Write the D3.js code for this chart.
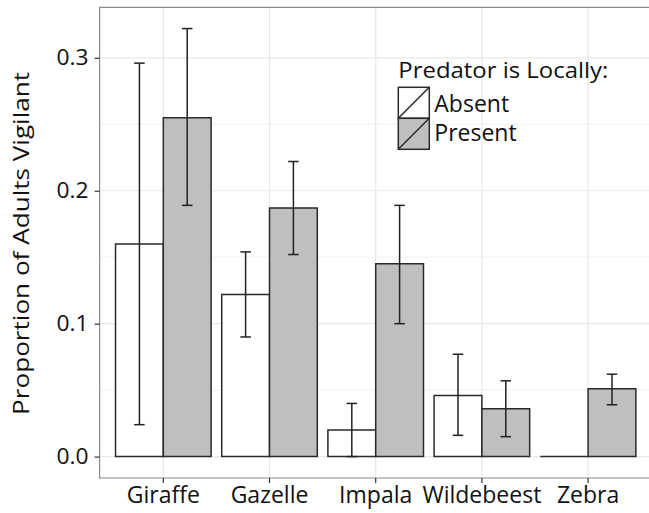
<!DOCTYPE html>
<html>
<head>
<meta charset="utf-8">
<script src="https://cdnjs.cloudflare.com/ajax/libs/d3/7.8.5/d3.min.js"></script>
<style>
  body { margin: 0; background: #fff; }
  svg { display: block; font-family: "Open Sans", "Noto Sans", sans-serif; }
</style>
</head>
<body>
<script>
// values
var species = ["Giraffe", "Gazelle", "Impala", "Wildebeest", "Zebra"];
var groups = ["Absent", "Present"];
var absentMean = [0.160, 0.122, 0.020, 0.046, 0.000];
var absentLow  = [0.024, 0.090, 0.000, 0.016, null];
var absentHigh = [0.296, 0.154, 0.040, 0.077, null];
var presentMean = [0.255, 0.187, 0.145, 0.036, 0.051];
var presentLow  = [0.189, 0.152, 0.100, 0.015, 0.039];
var presentHigh = [0.322, 0.222, 0.189, 0.057, 0.062];
var majorTicks = [0, 0.1, 0.2, 0.3];
var minorTicks = [0.05, 0.15, 0.25];

var width = 649, height = 513;
var pLeft = 99.6, pTop = 7.3, pBottom = 478, pRight = 651.8;

var svg = d3.select("body").append("svg")
    .attr("width", width)
    .attr("height", height);

var rows = [];
species.forEach(function(s, i) {
  rows.push({sp: s, grp: "Absent", mean: absentMean[i], lo: absentLow[i], hi: absentHigh[i]});
  rows.push({sp: s, grp: "Present", mean: presentMean[i], lo: presentLow[i], hi: presentHigh[i]});
});

var x = d3.scaleBand().domain(species).range([pLeft, pRight])
    .paddingInner(0.1).paddingOuter(0.15);
var xg = d3.scaleBand().domain(groups).range([0, x.bandwidth()]);
var y = d3.scaleLinear().domain([-0.0161, 0.338]).range([pBottom, pTop]);
var fill = d3.scaleOrdinal().domain(groups).range(["#ffffff", "#bfbfbf"]);

// grid
svg.append("g").selectAll("line")
  .data(minorTicks).enter().append("line")
    .attr("x1", pLeft).attr("x2", pRight)
    .attr("y1", d => y(d)).attr("y2", d => y(d))
    .attr("stroke", "#f3f3f3").attr("stroke-width", 1.2);

svg.append("g").selectAll("line")
  .data(majorTicks).enter().append("line")
    .attr("x1", pLeft).attr("x2", pRight)
    .attr("y1", d => y(d)).attr("y2", d => y(d))
    .attr("stroke", "#e8e8e8").attr("stroke-width", 1.2);

svg.append("g").selectAll("line")
  .data(species).enter().append("line")
    .attr("x1", d => x(d) + x.bandwidth() / 2).attr("x2", d => x(d) + x.bandwidth() / 2)
    .attr("y1", pTop).attr("y2", pBottom)
    .attr("stroke", "#e8e8e8").attr("stroke-width", 1.2);

// bars as paths so a zero-height bar still shows its outline
svg.append("g").selectAll("path")
  .data(rows).enter().append("path")
    .attr("d", function(d) {
      var x0 = x(d.sp) + xg(d.grp), x1 = x0 + xg.bandwidth();
      return "M" + x0 + "," + y(0) + "V" + y(d.mean) + "H" + x1 + "V" + y(0) + "Z";
    })
    .attr("fill", d => fill(d.grp))
    .attr("stroke", "#2a2a2a")
    .attr("stroke-width", 1.5);

// error bars
var eb = rows.filter(d => d.lo !== null);
var cap = xg.bandwidth() * 0.11;
var ebG = svg.append("g").attr("stroke", "#222").attr("stroke-width", 1.5);
eb.forEach(function(d) {
  var cx = x(d.sp) + xg(d.grp) + xg.bandwidth() / 2;
  ebG.append("line").attr("x1", cx).attr("x2", cx).attr("y1", y(d.hi)).attr("y2", y(d.lo));
  ebG.append("line").attr("x1", cx - cap).attr("x2", cx + cap).attr("y1", y(d.hi)).attr("y2", y(d.hi));
  ebG.append("line").attr("x1", cx - cap).attr("x2", cx + cap).attr("y1", y(d.lo)).attr("y2", y(d.lo));
});

// panel border (right side falls outside the picture)
svg.append("path")
    .attr("d", "M" + width + "," + pTop + "H" + pLeft + "V" + pBottom + "H" + width)
    .attr("fill", "none").attr("stroke", "#8a8a8a").attr("stroke-width", 1.2);

// axes
var yAxis = d3.axisLeft(y).tickValues(majorTicks).tickFormat(d3.format(".1f")).tickSize(5).tickPadding(6);
var yg = svg.append("g").attr("transform", "translate(" + pLeft + ",0)").call(yAxis);
yg.select(".domain").remove();
yg.selectAll(".tick line").attr("stroke", "#333").attr("stroke-width", 1.2);
yg.selectAll(".tick text").attr("fill", "#111").style("font-size", "22px")
    .attr("textLength", 32).attr("lengthAdjust", "spacingAndGlyphs")
    .style("font-family", "'Open Sans', sans-serif");

var xAxis = d3.axisBottom(x).tickSize(5).tickPadding(4);
var xa = svg.append("g").attr("transform", "translate(0," + pBottom + ")").call(xAxis);
xa.select(".domain").remove();
xa.selectAll(".tick line").attr("stroke", "#333").attr("stroke-width", 1.2);
xa.selectAll(".tick text").attr("fill", "#111").style("font-size", "23px")
    .style("font-family", "'Open Sans', sans-serif");

svg.append("text")
    .attr("transform", "translate(28.5,243.4) rotate(-90)")
    .attr("text-anchor", "middle")
    .attr("fill", "#111")
    .style("font-size", "22px")
    .attr("textLength", 343).attr("lengthAdjust", "spacingAndGlyphs")
    .text("Proportion of Adults Vigilant");

// legend
var lg = svg.append("g").attr("transform", "translate(398.3,87.3)");
lg.append("text").attr("x", 0).attr("y", -9)
    .attr("fill", "#111").style("font-size", "21px")
    .attr("textLength", 210).attr("lengthAdjust", "spacingAndGlyphs")
    .text("Predator is Locally:");
var keys = lg.selectAll("g.key").data(groups).enter().append("g")
    .attr("class", "key")
    .attr("transform", (d, i) => "translate(0," + (i * 31) + ")");
keys.append("rect").attr("width", 31).attr("height", 31)
    .attr("fill", d => fill(d)).attr("stroke", "#2a2a2a").attr("stroke-width", 1.5);
keys.append("line").attr("x1", 0).attr("y1", 31).attr("x2", 31).attr("y2", 0)
    .attr("stroke", "#2a2a2a").attr("stroke-width", 1.5);
keys.append("text").attr("x", 36).attr("y", (d, i) => i ? 22.7 : 24.4)
    .attr("fill", "#111").style("font-size", "23px")
    .text(d => d);
</script>
</body>
</html>
